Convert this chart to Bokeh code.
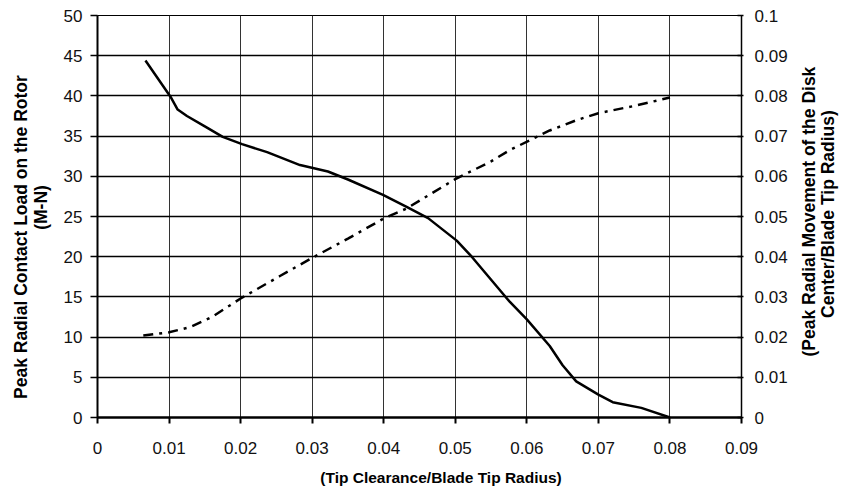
import math
from bokeh.plotting import figure
from bokeh.layouts import row
from bokeh.models import LinearAxis, Range1d, FixedTicker, CustomJSTickFormatter
from bokeh.core.properties import value
from bokeh.embed import file_html
from bokeh.resources import INLINE

# ---- data ----
x_ticks = [0, 0.01, 0.02, 0.03, 0.04, 0.05, 0.06, 0.07, 0.08, 0.09]
y_left_ticks = [0, 5, 10, 15, 20, 25, 30, 35, 40, 45, 50]
y_right_ticks = [0, 0.01, 0.02, 0.03, 0.04, 0.05, 0.06, 0.07, 0.08, 0.09, 0.1]

x_load = [0.0067, 0.0102, 0.0112, 0.0125, 0.015, 0.0175, 0.0202, 0.0237, 0.0283,
          0.0322, 0.035, 0.0399, 0.0432, 0.0462, 0.0502, 0.0523, 0.0576, 0.06,
          0.0632, 0.065, 0.0669, 0.07, 0.072, 0.076, 0.08]
load = [44.4, 39.9, 38.3, 37.5, 36.2, 34.9, 34.0, 33.0, 31.4,
        30.6, 29.6, 27.7, 26.2, 24.8, 22.0, 20.0, 14.4, 12.2,
        8.9, 6.5, 4.5, 2.85, 1.9, 1.2, 0.0]

x_move = [0.0064, 0.01, 0.013, 0.016, 0.02, 0.0255, 0.03, 0.035, 0.04, 0.0432,
          0.05, 0.055, 0.0576, 0.0632, 0.067, 0.07, 0.075, 0.08]
move = [0.0204, 0.0212, 0.0225, 0.025, 0.0296, 0.0352, 0.0397, 0.0445, 0.0495, 0.052,
        0.0593, 0.0637, 0.0665, 0.0714, 0.074, 0.0757, 0.0775, 0.0796]

x_title = "(Tip Clearance/Blade Tip Radius)"
left_title_lines = ["Peak Radial Contact Load on the Rotor", "(M-N)"]
right_title_lines = ["(Peak Radial Movement of the Disk", "Center/Blade Tip Radius)"]

FONT = "Liberation Sans"
TICK_SIZE = "17px"
TITLE_SIZE = "15.5px"
VTITLE_SIZE = "17.5px"

H = 488
SIDE_L = 52
SIDE_R = 52
MAIN_W = 842 - SIDE_L - SIDE_R

p = figure(width=MAIN_W, height=H, x_range=Range1d(0, 0.09), y_range=Range1d(0, 50),
           output_backend="svg", toolbar_location=None,
           min_border_left=97 - SIDE_L, min_border_right=SIDE_L + MAIN_W - 742,
           min_border_top=15, min_border_bottom=70)
p.extra_y_ranges = {"r": Range1d(0, 0.1)}
p.background_fill_color = "white"
p.border_fill_color = "white"
p.outline_line_color = "black"
p.outline_line_width = 1

fmt = CustomJSTickFormatter(code="return String(tick);")

# grids
p.xgrid.ticker = FixedTicker(ticks=x_ticks)
p.ygrid.ticker = FixedTicker(ticks=y_left_ticks)
p.xgrid.grid_line_color = "#333333"
p.xgrid.grid_line_width = 1
p.ygrid.grid_line_color = "black"
p.ygrid.grid_line_width = 1.3

def style_axis(ax):
    ax.major_label_text_font = FONT
    ax.major_label_text_font_size = TICK_SIZE
    ax.major_label_text_color = "#111111"
    ax.axis_label_text_font = FONT
    ax.axis_label_text_font_size = TITLE_SIZE
    ax.axis_label_text_font_style = "bold"
    ax.axis_label_text_color = "black"
    ax.axis_line_color = "black"
    ax.major_tick_line_color = "black"
    ax.minor_tick_line_color = None
    ax.formatter = fmt

# bottom axis (title sits a little right of the frame centre, as in the original)
xa = p.xaxis[0]
style_axis(xa)
xa.ticker = FixedTicker(ticks=x_ticks)
xa.axis_label = "\u00a0" * 10 + x_title
xa.axis_label_text_line_height = 1.0
xa.axis_line_width = 2.5
xa.major_tick_line_width = 2
xa.major_tick_in = 0
xa.major_tick_out = 6
xa.major_label_standoff = 18
xa.axis_label_standoff = 12

# left axis
ya = p.yaxis[0]
style_axis(ya)
ya.ticker = FixedTicker(ticks=y_left_ticks)
ya.axis_line_width = 2
ya.major_tick_line_width = 1.5
ya.major_tick_in = 0
ya.major_tick_out = 7
ya.major_label_standoff = 8

# right axis
ra = LinearAxis(y_range_name="r")
style_axis(ra)
ra.ticker = FixedTicker(ticks=y_right_ticks)
ra.axis_line_width = 1.5
ra.major_tick_line_width = 1.5
ra.major_tick_in = 4
ra.major_tick_out = 2
ra.major_label_standoff = 11
p.add_layout(ra, "right")

# series
p.line(x_load, load, line_color="black", line_width=2.5)
p.line(x_move, move, y_range_name="r", line_color="black", line_width=2.5,
       line_dash="10 6 3 6")

# side panels carrying the rotated titles (reading bottom-to-top)
def side_panel(w):
    s = figure(width=w, height=H, x_range=Range1d(0, w), y_range=Range1d(0, H),
               output_backend="svg", toolbar_location=None,
               x_axis_location=None, y_axis_location=None,
               min_border_left=0, min_border_right=0, min_border_top=0,
               min_border_bottom=0)
    s.outline_line_color = None
    s.xgrid.visible = False
    s.ygrid.visible = False
    s.background_fill_color = "white"
    s.border_fill_color = "white"
    return s

def vtext(s, xs, ys, lines):
    s.text(x=xs, y=ys, text=lines, angle=math.pi / 2,
           text_align="center", text_baseline="middle",
           text_font=value(FONT), text_font_size=value(VTITLE_SIZE),
           text_font_style="bold", text_color="black")

left_side = side_panel(SIDE_L)
vtext(left_side, [20, 40], [H - 269, H - 233], left_title_lines)

right_side = side_panel(SIDE_R)
x0 = SIDE_L + MAIN_W
vtext(right_side, [808.5 - x0, 827 - x0], [H - 238, H - 241], right_title_lines)

layout = row(left_side, p, right_side, spacing=0)
open("out.html", "w").write(file_html(layout, INLINE))
